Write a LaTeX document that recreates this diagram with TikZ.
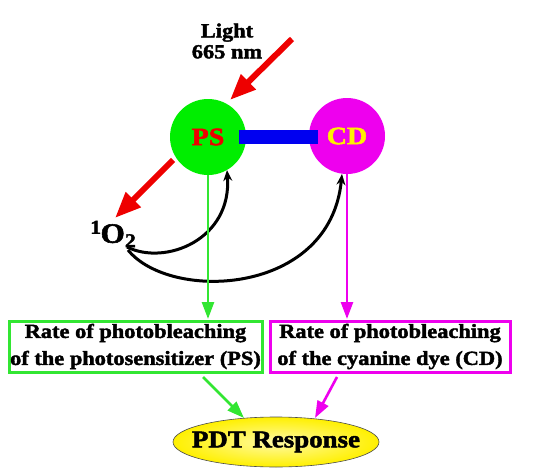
\documentclass[tikz,border=0pt]{standalone}
\usepackage{fontspec}
\setmainfont{Liberation Serif}[BoldFeatures={FakeStretch=1.12,FakeBold=2}]
\usetikzlibrary{arrows.meta,shapes.geometric}
\definecolor{pgreen}{RGB}{0,238,0}
\definecolor{lgreen}{RGB}{50,230,50}
\definecolor{pmag}{RGB}{238,0,238}
\definecolor{pred}{RGB}{238,0,0}
\definecolor{pblue}{RGB}{0,0,240}
\definecolor{pyel}{RGB}{255,240,0}
\tikzset{
  lbl/.style={font=\bfseries\fontsize{20}{24}\selectfont, align=center, inner sep=0pt},
  disk/.style={circle, minimum size=76pt, inner sep=0pt},
  ratebox/.style={draw, line width=3pt, minimum width=253pt, minimum height=51pt, inner sep=0pt, align=center,
    font=\bfseries\fontsize{20}{27}\selectfont},
  redarrow/.style={draw=pred, line width=6pt, -{Triangle[length=26pt,width=20pt]}},
  blkarrow/.style={draw=black, line width=3pt, -{Stealth[length=11pt,width=9pt]}},
  colarrow/.style={line width=2.6pt, -{Triangle[length=17pt,width=12pt]}},
}
\begin{document}
\begin{tikzpicture}[x=1pt,y=-1pt]
\useasboundingbox (0,0) rectangle (541,471);
% labels
\node[lbl] (light) at (227,41) {Light\\[-3pt]665 nm};
% disks
\node[disk, fill=pgreen] (ps) at (208,137) {};
\node[disk, fill=pmag] (cd) at (347,136) {};
\fill[pblue] (239,130) rectangle (318,144);
\node[font=\bfseries\fontsize{25}{28}\selectfont, text=pred, inner sep=0pt] (pst) at (ps) {PS};
\node[font=\bfseries\fontsize{25}{28}\selectfont, text=pyel, inner sep=0pt] (cdt) at (cd) {CD};
% light arrow
\coordinate (lt) at (292,39);
\coordinate (lh) at (230,100);
\draw[redarrow] (lt) -- (lh);
% singlet oxygen
\node[font=\bfseries\fontsize{28}{30}\selectfont, inner sep=0pt, anchor=west] (o2) at (90,234) {$^{\mathbf{1}}$O$_{\mathbf{2}}$};
\coordinate (rs) at (173,160);
\coordinate (re) at (115,218);
\draw[redarrow] (rs) -- (re);
% black curved arrows
\coordinate (c1) at (127,247);
\coordinate (c2) at (128,250);
\coordinate (pstip) at (227,170);
\coordinate (cdtip) at (342,174);
\draw[blkarrow] (c1) .. controls (165,266) and (232,240) .. (pstip);
\draw[blkarrow] (c2) .. controls (170,302) and (330,296) .. (cdtip);
% boxes
\node[ratebox, draw=lgreen] (bps) at (135.5,346.5) {Rate of photobleaching\\of the photosensitizer (PS)};
\node[ratebox, draw=pmag, minimum width=240pt] (bcd) at (390,346.5) {Rate of photobleaching\\of the cyanine dye (CD)};
\draw[colarrow, draw=lgreen, fill=lgreen] (208,175) -- (208,319);
\draw[colarrow, draw=pmag, fill=pmag] (347,174) -- (347,319);
% response
\node[ellipse, minimum width=206pt, minimum height=50pt, inner sep=0pt, draw=black!70, line width=0.6pt,
  inner color=pyel!35, outer color=pyel] (pdt) at (276,442) {};
\node[font=\bfseries\fontsize{24}{28}\selectfont, inner sep=0pt] (pdtt) at (pdt) {PDT Response};
\draw[colarrow, draw=lgreen, fill=lgreen] (203,377) -- (244,418);
\draw[colarrow, draw=pmag, fill=pmag] (337,377) -- (315,418);
\end{tikzpicture}
\end{document}
